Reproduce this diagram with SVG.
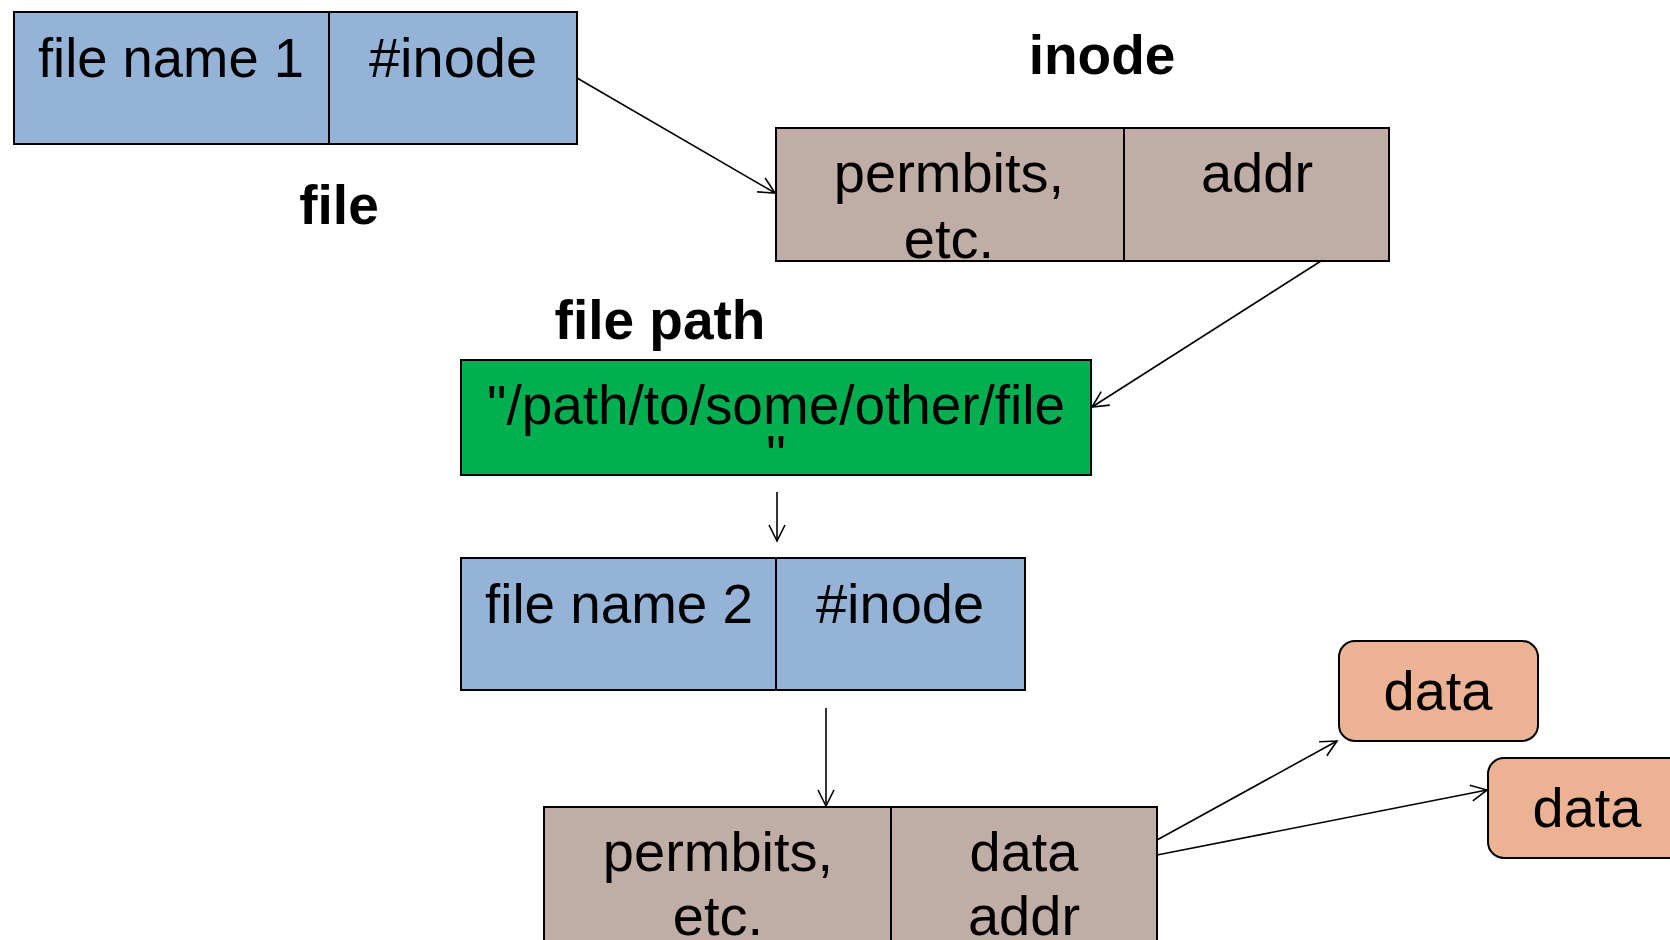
<svg xmlns="http://www.w3.org/2000/svg" width="1670" height="940" viewBox="0 0 1670 940">
<style>
.t{font-family:"Liberation Sans",Arial,sans-serif;font-size:56px;fill:#000;text-anchor:middle}
.b{font-family:"Liberation Sans",Arial,sans-serif;font-size:55px;font-weight:bold;fill:#000;text-anchor:middle}
.box{stroke:#000;stroke-width:2}
.blue{fill:#95B3D7}
.tan{fill:#C0ADA6}
.green{fill:#00B050}
.data{fill:#EBB293}
.c{stroke:#000;stroke-width:1.6;fill:none;marker-end:url(#ah)}
</style>
<defs>
<marker id="ah" viewBox="0 0 20 20" refX="18" refY="10" markerWidth="20" markerHeight="20" markerUnits="userSpaceOnUse" orient="auto">
<path d="M2,2 L18,10 L2,18" fill="none" stroke="#000" stroke-width="1.6"/>
</marker>
</defs>
<rect width="1670" height="940" fill="#fff"/>
<g id="file1">
<rect class="box blue" x="14" y="12" width="563" height="132"/>
<line class="box" x1="329" y1="12" x2="329" y2="144"/>
<text class="t" x="171" y="77" textLength="266" lengthAdjust="spacingAndGlyphs">file name 1</text>
<text class="t" x="453" y="77">#inode</text>
</g>
<text id="lbl-file" class="b" x="339" y="224">file</text>
<text id="lbl-inode" class="b" x="1102" y="74">inode</text>
<g id="inode1">
<rect class="box tan" x="776" y="128" width="613" height="133"/>
<line class="box" x1="1124" y1="128" x2="1124" y2="261"/>
<text class="t" x="949" y="192">permbits,</text>
<text class="t" x="949" y="258">etc.</text>
<text class="t" x="1257" y="192">addr</text>
</g>
<text id="lbl-path" class="b" x="660" y="339">file path</text>
<g id="path">
<rect class="box green" x="461" y="360" width="630" height="115"/>
<text class="t" x="776" y="424" textLength="578" lengthAdjust="spacingAndGlyphs">"/path/to/some/other/file</text>
<text class="t" x="776" y="474">"</text>
</g>
<g id="file2">
<rect class="box blue" x="461" y="558" width="564" height="132"/>
<line class="box" x1="776" y1="558" x2="776" y2="690"/>
<text class="t" x="619" y="623" textLength="268" lengthAdjust="spacingAndGlyphs">file name 2</text>
<text class="t" x="900" y="623">#inode</text>
</g>
<g id="inode2">
<rect class="box tan" x="544" y="807" width="613" height="150"/>
<line class="box" x1="891" y1="807" x2="891" y2="957"/>
<text class="t" x="718" y="871">permbits,</text>
<text class="t" x="718" y="935">etc.</text>
<text class="t" x="1024" y="871">data</text>
<text class="t" x="1024" y="935">addr</text>
</g>
<g id="data1">
<rect class="box data" x="1339" y="641" width="199" height="100" rx="16"/>
<text class="t" x="1438" y="710">data</text>
</g>
<g id="data2">
<rect class="box data" x="1488" y="758" width="200" height="100" rx="16"/>
<text class="t" x="1587" y="827">data</text>
</g>
<g id="connectors">
<line class="c" x1="577" y1="78" x2="775" y2="193"/>
<line class="c" x1="1321" y1="261" x2="1092" y2="407"/>
<line class="c" x1="777" y1="492" x2="777" y2="541"/>
<line class="c" x1="826" y1="708" x2="826" y2="806"/>
<line class="c" x1="1157" y1="840" x2="1337" y2="741"/>
<line class="c" x1="1157" y1="855" x2="1487" y2="790"/>
</g>
</svg>
